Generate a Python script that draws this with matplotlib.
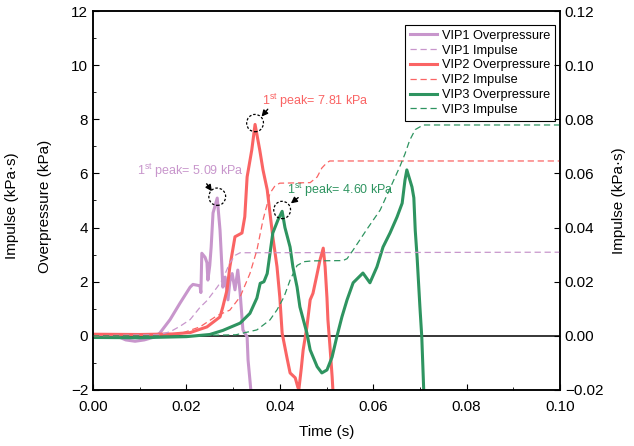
import matplotlib
matplotlib.use("Agg")
import matplotlib.pyplot as plt
from matplotlib.patches import Ellipse
from matplotlib.ticker import MultipleLocator

plt.rcParams['font.family'] = ['Liberation Sans', 'DejaVu Sans']
plt.rcParams['mathtext.fontset'] = 'custom'
plt.rcParams['mathtext.rm'] = 'Liberation Sans'
plt.rcParams['mathtext.it'] = 'Liberation Sans'

# ---------------- data ----------------
# VIP1 overpressure (time s, kPa)
t1 = [0, 0.005, 0.007, 0.009, 0.011, 0.013, 0.0143, 0.0165, 0.0186, 0.0208, 0.0214,
      0.0229, 0.0231, 0.0233, 0.0240, 0.0244, 0.0246, 0.0250, 0.0253, 0.0257, 0.0266,
      0.0272, 0.0276, 0.0278, 0.0283, 0.0289, 0.0293, 0.0298, 0.0304, 0.0310, 0.0315,
      0.0321, 0.0330, 0.0332, 0.0336, 0.0340]
p1 = [0.05, 0.0, -0.15, -0.2, -0.15, -0.05, 0.1, 0.6, 1.2, 1.8, 1.9,
      1.85, 1.6, 3.05, 2.9, 2.7, 2.06, 2.6, 3.28, 4.54, 5.09,
      3.9, 2.55, 1.8, 2.17, 1.33, 2.0, 2.3, 1.7, 2.43, 1.59,
      0.22, -0.04, -0.89, -1.63, -2.4]
# VIP1 impulse (kPa*s)
ti1 = [0, 0.0143, 0.0165, 0.0186, 0.0208, 0.0229, 0.0244, 0.0266, 0.0278, 0.0293, 0.0305, 0.0315, 0.1]
i1 = [0, 0.0005, 0.0015, 0.0035, 0.006, 0.0105, 0.013, 0.018, 0.021, 0.027, 0.0298, 0.0307, 0.0309]

# VIP2 overpressure
t2 = [0, 0.01, 0.017, 0.0208, 0.0244, 0.0272, 0.0278, 0.0287, 0.0293, 0.0304, 0.0319,
      0.0325, 0.0330, 0.0340, 0.0347, 0.0357, 0.0364, 0.0373, 0.0379, 0.0385, 0.0394,
      0.0400, 0.0405, 0.0415, 0.0422, 0.0433, 0.0439, 0.0441, 0.0446, 0.0450, 0.0458,
      0.0465, 0.0471, 0.0480, 0.0486, 0.0493, 0.0497, 0.0501, 0.0503, 0.0507, 0.0512, 0.0515]
p2 = [0.06, 0.05, 0.07, 0.12, 0.33, 0.7, 1.07, 1.7, 2.55, 3.66, 3.8,
      4.4, 5.87, 6.87, 7.81, 6.87, 6.13, 5.4, 4.53, 3.66, 2.55,
      1.43, 0.1, -0.78, -1.37, -1.55, -1.92, -1.95, -1.2, -0.52, 0.33,
      1.33, 1.57, 2.3, 2.8, 3.24, 2.55, 1.4, 0.6, -0.3, -1.5, -2.4]
# VIP2 impulse
ti2 = [0, 0.016, 0.019, 0.0229, 0.0266, 0.0293, 0.0315, 0.0336, 0.0351, 0.0364, 0.0379,
       0.0390, 0.0400, 0.0465, 0.0480, 0.0490, 0.0501, 0.0507, 0.1]
i2 = [0, 0.0002, 0.001, 0.0033, 0.0075, 0.0095, 0.0144, 0.023, 0.0317, 0.0428, 0.0527,
      0.0555, 0.0564, 0.0566, 0.0587, 0.062, 0.064, 0.0646, 0.0646]

# VIP3 overpressure
t3 = [0, 0.01, 0.02, 0.025, 0.0278, 0.0315, 0.0336, 0.0351, 0.0358, 0.0366, 0.0373,
      0.0379, 0.0385, 0.0396, 0.0405, 0.0411, 0.0422, 0.0428, 0.0437, 0.0443, 0.0458,
      0.0465, 0.0480, 0.0490, 0.0501, 0.0512, 0.0522, 0.0533, 0.0544, 0.0557, 0.0578,
      0.0593, 0.0608, 0.0621, 0.0636, 0.0651, 0.0662, 0.0668, 0.0672, 0.0683, 0.0687,
      0.0690, 0.0694, 0.0700, 0.0704, 0.0709]
p3 = [-0.06, -0.07, -0.03, 0.05, 0.2, 0.47, 0.83, 1.4, 1.94, 2.0, 2.3,
      3.05, 3.8, 4.28, 4.6, 4.0, 3.28, 2.55, 1.8, 1.07, 0.1,
      -0.52, -1.14, -1.37, -1.26, -0.78, -0.04, 0.7, 1.33, 1.96, 2.32,
      1.96, 2.55, 3.28, 3.8, 4.39, 4.9, 5.75, 6.13, 5.5, 5.1,
      3.9, 2.9, 1.07, -0.04, -2.4]
# VIP3 impulse
ti3 = [0, 0.02, 0.0306, 0.0351, 0.0379, 0.0394, 0.0409, 0.0422, 0.0437, 0.0452, 0.047,
       0.0535, 0.0544, 0.055, 0.0557, 0.0587, 0.0615, 0.0636, 0.0657, 0.0668, 0.0678,
       0.069, 0.0707, 0.1]
i3 = [0, 0, 0.0004, 0.0022, 0.0059, 0.0096, 0.0144, 0.0206, 0.026, 0.0274, 0.0277,
      0.0278, 0.0285, 0.03, 0.0317, 0.0395, 0.0465, 0.0545, 0.0625, 0.0672, 0.0722,
      0.0762, 0.0779, 0.0779]

peak_labels = ["1$^{\\mathrm{st}}$ peak= 5.09 kPa",
               "1$^{\\mathrm{st}}$ peak= 7.81 kPa",
               "1$^{\\mathrm{st}}$ peak= 4.60 kPa"]
peak_t = [0.0266, 0.0347, 0.0405]
peak_p = [5.09, 7.81, 4.60]

c1 = '#c896cc'
c2 = '#fa6464'
c3 = '#2e9460'

# ---------------- figure ----------------
fig = plt.figure(figsize=(6.34, 4.46), dpi=100)
ax = fig.add_axes([0.1467, 0.1256, 0.7366, 0.8497])
ax2 = ax.twinx()

l1, = ax.plot(t1, p1, color=c1, lw=2.2, label='VIP1 Overpressure')
l2, = ax.plot(t2, p2, color=c2, lw=2.2, label='VIP2 Overpressure')
l3, = ax.plot(t3, p3, color=c3, lw=2.2, label='VIP3 Overpressure')
d1, = ax2.plot(ti1, i1, color=c1, lw=0.9, ls=(0, (5, 3)), label='VIP1 Impulse')
d2, = ax2.plot(ti2, i2, color=c2, lw=0.9, ls=(0, (5, 3)), label='VIP2 Impulse')
d3, = ax2.plot(ti3, i3, color=c3, lw=0.9, ls=(0, (5, 3)), label='VIP3 Impulse')
ax.axhline(0, color='black', lw=1.1, zorder=1)

ax.set_xlim(0, 0.1)
ax.set_ylim(-2, 12)
ax2.set_ylim(-0.02, 0.12)
ax.xaxis.set_major_locator(MultipleLocator(0.02))
ax.xaxis.set_minor_locator(MultipleLocator(0.01))
ax.yaxis.set_major_locator(MultipleLocator(2))
ax.yaxis.set_minor_locator(MultipleLocator(1))
ax2.yaxis.set_major_locator(MultipleLocator(0.02))
ax.xaxis.set_major_formatter(plt.FuncFormatter(lambda v, p: f"{v:.2f}"))
ax2.yaxis.set_major_formatter(plt.FuncFormatter(lambda v, p: f"{v:.2f}".replace('-', '\u2212')))

ax.tick_params(axis='both', which='both', direction='in', labelsize=11, top=False)
ax.tick_params(which='major', length=4)
ax.tick_params(which='minor', length=2.5)
ax.tick_params(axis='x', which='major', pad=7)
ax2.tick_params(axis='y', direction='in', labelsize=11, length=4)
for a in (ax, ax2):
    for s in a.spines.values():
        s.set_linewidth(1.1)

ax.set_xlabel('Time (s)', fontsize=11, labelpad=8)
ax2.set_ylabel('Impulse (kPa\u00b7s)', fontsize=11, labelpad=6)
fig.text(0.071, 0.538, 'Overpressure (kPa)', rotation=90, fontsize=11, ha='center', va='center')
fig.text(0.019, 0.538, 'Impulse (kPa\u00b7s)', rotation=90, fontsize=11, ha='center', va='center')

# annotations
text_pos = [(0.0095, 6.1), (0.0362, 8.67), (0.0415, 5.39)]
arrow_from = [(0.0240, 5.7), (0.0378, 8.45), (0.0444, 5.17)]
arrow_to = [(0.0258, 5.26), (0.0357, 8.02), (0.0419, 4.83)]
cols = [c1, c2, c3]
for k in range(3):
    ax.text(text_pos[k][0], text_pos[k][1], peak_labels[k], color=cols[k], fontsize=9,
            ha='left', va='center')
    ax.annotate('', xy=arrow_to[k], xytext=arrow_from[k],
                arrowprops=dict(arrowstyle='-|>', color='black', lw=1, mutation_scale=9))
    e = Ellipse((peak_t[k], peak_p[k] + 0.05), width=0.0036, height=0.64, fill=False,
                edgecolor='black', ls=(0, (2, 1.5)), lw=0.9, zorder=5)
    ax.add_patch(e)

leg = ax.legend([l1, d1, l2, d2, l3, d3],
                [h.get_label() for h in [l1, d1, l2, d2, l3, d3]],
                loc='upper right', bbox_to_anchor=(0.9975, 0.974), fontsize=9.2,
                frameon=True, fancybox=False, framealpha=1, edgecolor='black',
                handlelength=2.1, handletextpad=0.35, borderpad=0.4, labelspacing=0.22,
                borderaxespad=0.3)
leg.get_frame().set_linewidth(0.8)

fig.savefig('out.png', dpi=100)
